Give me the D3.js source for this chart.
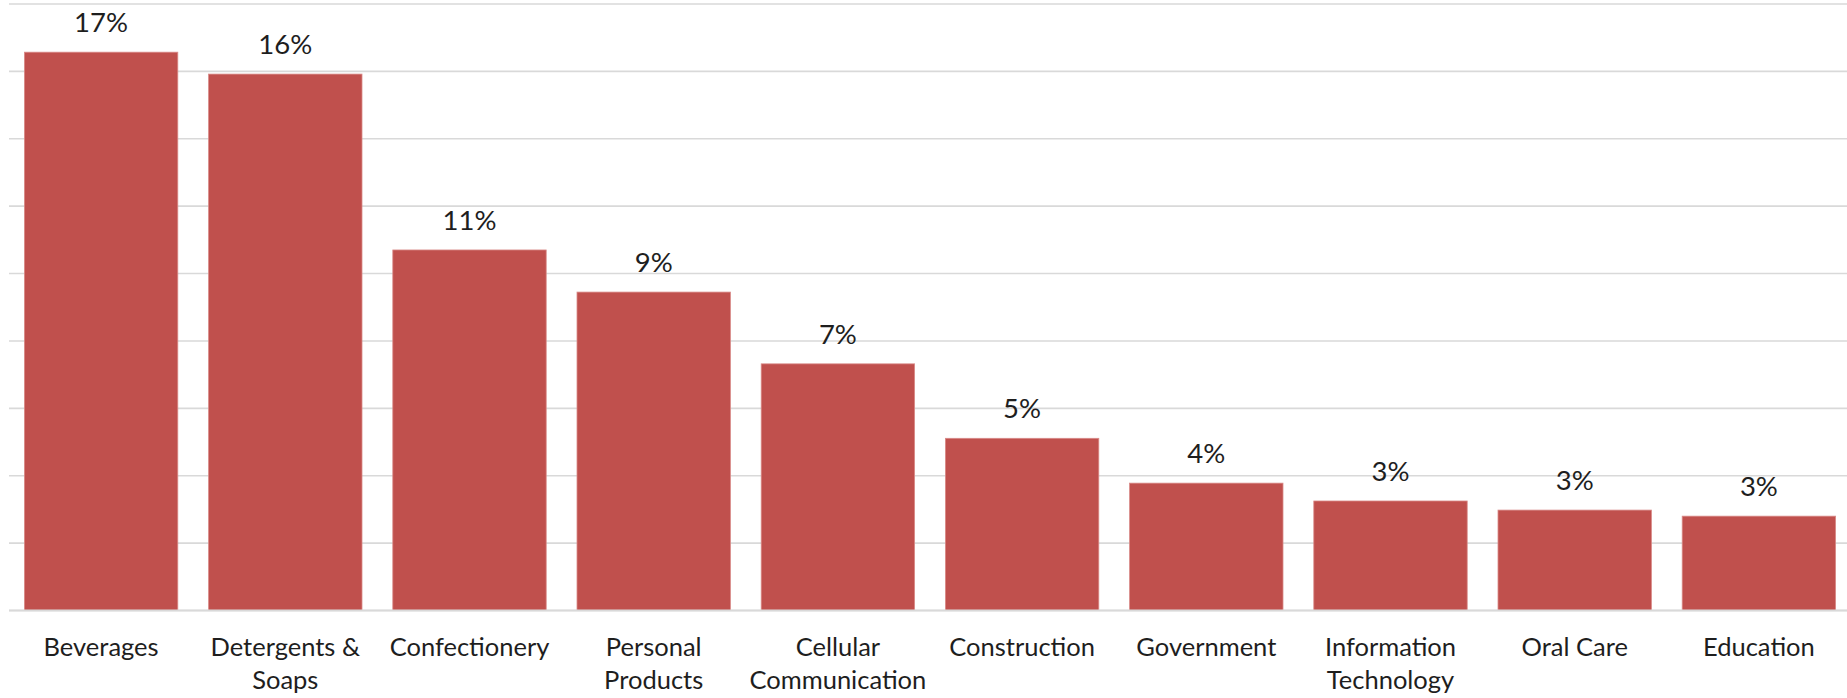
<!DOCTYPE html>
<html>
<head>
<meta charset="utf-8">
<script src="https://cdn.jsdelivr.net/npm/d3@7"></script>
<style>
  html, body { margin: 0; padding: 0; background: #fff; }
  svg { display: block; }
</style>
</head>
<body>
<svg id="chart" width="1847" height="698"></svg>
<script>
// Share of spend by category (fractions)
const categories = [
  "Beverages", "Detergents & Soaps", "Confectionery", "Personal Products",
  "Cellular Communication", "Construction", "Government",
  "Information Technology", "Oral Care", "Education"
];
const shares = [0.1657, 0.1592, 0.1070, 0.0945, 0.0732, 0.0511, 0.0378, 0.0325, 0.0298, 0.0280];
const gridTicks = [0, 0.02, 0.04, 0.06, 0.08, 0.10, 0.12, 0.14, 0.16, 0.18];

const width = 1847, height = 698;
const plot = { left: 9, right: 1851, top: 4, bottom: 610.5 };

const svg = d3.select("#chart");

const x = d3.scaleBand()
  .domain(categories)
  .range([plot.left, plot.right])
  .paddingInner(0.1672)
  .paddingOuter(0.0836);

const y = d3.scaleLinear()
  .domain([0, 0.18])
  .range([plot.bottom, plot.top]);

// Horizontal gridlines
svg.append("g")
  .selectAll("line")
  .data(gridTicks)
  .join("line")
  .attr("x1", plot.left)
  .attr("x2", width)
  .attr("y1", d => y(d))
  .attr("y2", d => y(d))
  .attr("stroke", "#d9d9d9")
  .attr("stroke-width", 1.6);

// Bars
svg.append("g")
  .selectAll("rect")
  .data(categories)
  .join("rect")
  .attr("x", d => x(d))
  .attr("width", x.bandwidth())
  .attr("y", (d, i) => y(shares[i]))
  .attr("height", (d, i) => y(0) - y(shares[i]))
  .attr("fill", "#c0504d")
  .attr("stroke", "#d98a88")
  .attr("stroke-width", 0.8);

// Baseline
svg.append("line")
  .attr("x1", plot.left).attr("x2", width)
  .attr("y1", y(0)).attr("y2", y(0))
  .attr("stroke", "#d9d9d9")
  .attr("stroke-width", 1.8);

// Value labels
const pct = d3.format(".0%");
svg.append("g")
  .selectAll("text")
  .data(categories)
  .join("text")
  .attr("x", d => x(d) + x.bandwidth() / 2)
  .attr("y", (d, i) => y(shares[i]) - 20)
  .attr("text-anchor", "middle")
  .attr("font-family", "Lato, 'Open Sans', sans-serif")
  .attr("font-size", 27.5)
  .attr("fill", "#1e1e1e")
  .text((d, i) => pct(shares[i]));

// Category labels, wrapped to the band width
const xAxis = d3.axisBottom(x).tickSize(0).tickPadding(0);
const axisG = svg.append("g")
  .attr("transform", `translate(0,${y(0)})`)
  .call(xAxis);
axisG.select(".domain").remove();

const maxLine = x.step() * 0.86;
const lineHeight = 33;
axisG.selectAll(".tick text")
  .attr("font-family", "Lato, 'Open Sans', sans-serif")
  .attr("font-size", 25.5)
  .attr("fill", "#1e1e1e")
  .each(function(label) {
    const t = d3.select(this);
    const words = label.split(" ");
    t.text(null).attr("y", 0).attr("dy", null);
    const lines = [];
    let current = [];
    const probe = t.append("tspan");
    words.forEach(w => {
      const attempt = current.concat(w).join(" ");
      probe.text(attempt);
      if (current.length && probe.node().getComputedTextLength() > maxLine) {
        lines.push(current.join(" "));
        current = [w];
      } else {
        current.push(w);
      }
    });
    lines.push(current.join(" "));
    probe.remove();
    lines.forEach((ln, k) => {
      t.append("tspan")
        .attr("x", 0)
        .attr("y", 45 + k * lineHeight)
        .text(ln);
    });
  });
</script>
</body>
</html>
